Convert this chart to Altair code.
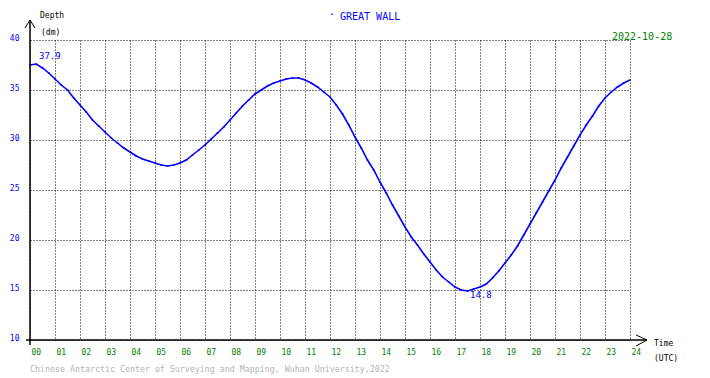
import altair as alt
import pandas as pd

hours = [i * 0.25 for i in range(97)]
depth = [
    37.5, 37.6, 37.2, 36.7, 36.1, 35.5, 35.0, 34.2, 33.5, 32.8, 32.0, 31.4,
    30.8, 30.2, 29.7, 29.2, 28.8, 28.4, 28.1, 27.9, 27.7, 27.5, 27.4, 27.5,
    27.7, 28.0, 28.5, 29.0, 29.5, 30.1, 30.7, 31.3, 32.0, 32.7, 33.4, 34.0,
    34.6, 35.0, 35.4, 35.7, 35.9, 36.1, 36.2, 36.2, 36.0, 35.7, 35.3, 34.8,
    34.3, 33.5, 32.6, 31.5, 30.3, 29.2, 28.0, 27.0, 25.8, 24.7, 23.5, 22.4,
    21.3, 20.3, 19.5, 18.6, 17.8, 17.0, 16.3, 15.8, 15.3, 15.0, 14.9, 15.1,
    15.3, 15.6, 16.2, 16.9, 17.7, 18.5, 19.4, 20.5, 21.6, 22.7, 23.8, 24.9,
    26.0, 27.2, 28.3, 29.4, 30.5, 31.5, 32.4, 33.4, 34.2, 34.8, 35.3, 35.7,
    36.0,
]
x_ticks = list(range(25))
y_ticks = [10, 15, 20, 25, 30, 35, 40]
ext_labels = ["37.9", "14.8"]
ext_hours = [0.36, 17.6]
ext_depth = [38.4, 14.5]

FONT = "DejaVu Sans Mono"
BLUE = "#0000ff"
GREEN = "#008000"

df = pd.DataFrame({"hour": hours, "depth": depth})
ann = pd.DataFrame({"label": ext_labels, "hour": ext_hours, "depth": ext_depth})
one = pd.DataFrame({"k": [0]})

xs = alt.Scale(domain=[0, 24], nice=False)
ys = alt.Scale(domain=[10, 40], nice=False)

xaxis = alt.Axis(
    values=x_ticks, grid=True, gridDash=[1, 2], gridColor="black", gridOpacity=1,
    domain=False, ticks=False, labelColor=GREEN, labelFont=FONT, labelFontSize=8,
    labelAlign="left", labelBaseline="top", labelPadding=8, labelOffset=1,
    labelExpr="(datum.value < 10 ? '0' : '') + datum.value", title=None,
    labelFlush=False, labelOverlap=False, tickCount=25,
)
yaxis = alt.Axis(
    values=y_ticks, grid=True, gridDash=[1, 2], gridColor="black", gridOpacity=1,
    domain=False, ticks=False, labelColor=BLUE, labelFont=FONT, labelFontSize=8,
    labelBaseline="alphabetic", labelPadding=11, title=None,
    labelFlush=False, labelOverlap=False,
)

X = alt.X("hour:Q", scale=xs, axis=xaxis)
Y = alt.Y("depth:Q", scale=ys, axis=yaxis)

base = alt.Chart(df)
line = base.mark_line(color=BLUE, strokeWidth=1.6).encode(x=X, y=Y)
pts = base.mark_square(color=BLUE, size=3, opacity=0.8).encode(x=X, y=Y)
ann_text = alt.Chart(ann).mark_text(
    color=BLUE, font=FONT, fontSize=9, align="left", baseline="middle"
).encode(x=X, y=Y, text="label:N")

def rule(x1, y1, x2, y2, w=1.5):
    return alt.Chart(one).mark_rule(color="black", strokeWidth=w).encode(
        x=alt.value(x1), y=alt.value(y1), x2=alt.value(x2), y2=alt.value(y2)
    )

axes = [
    rule(0, -20, 0, 305),
    rule(-4, 300, 617, 300),
    rule(0, -20, -5, -12, 1),
    rule(0, -20, 5, -12, 1),
    rule(617, 300, 606, 295, 1),
    rule(617, 300, 606, 306, 1),
]

def txt(s, x, y, color="black", size=8, align="left"):
    return alt.Chart(one).mark_text(
        text=s, color=color, font=FONT, fontSize=size, align=align, baseline="middle"
    ).encode(x=alt.value(x), y=alt.value(y))

texts = [
    txt("Depth", 10, -24),
    txt("(dm)", 11, -7),
    txt("·", 299, -25, BLUE, 10),
    txt("GREAT WALL", 310, -23, BLUE, 10),
    txt("2022-10-28", 582, -3, GREEN, 10),
    txt("Time", 624, 304),
    txt("(UTC)", 624, 319),
    txt("Chinese Antarctic Center of Surveying and Mapping, Wuhan University,2022",
        0, 330, "#b4b4b4", 8.3),
]

chart = alt.layer(line, pts, ann_text, *axes, *texts).properties(
    width=600, height=300,
    autosize=alt.AutoSizeParams(type="none"),
    padding={"left": 22, "top": 32, "right": 50, "bottom": 36},
    background="white",
).configure_view(stroke=None)

chart.save("out.html", embed_options={"renderer": "svg", "actions": False})
